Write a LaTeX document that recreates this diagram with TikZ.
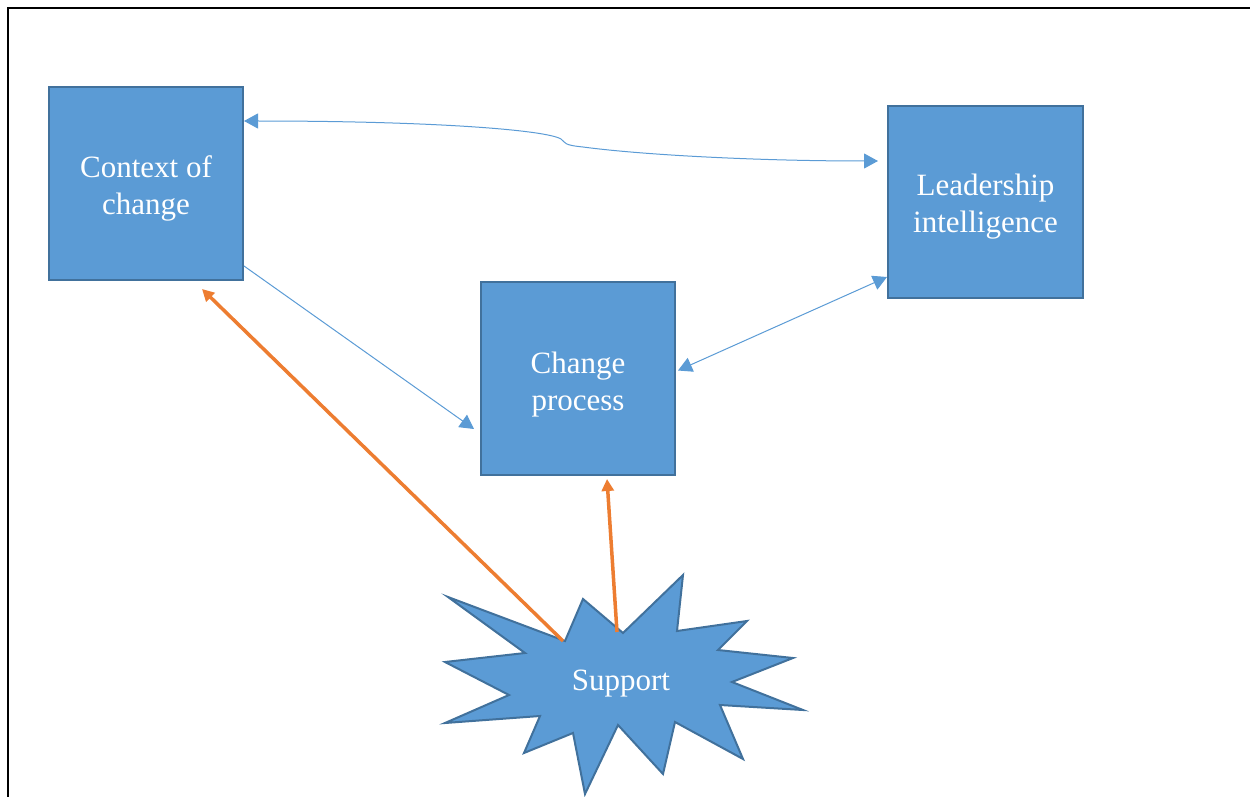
\documentclass[tikz,border=0pt]{standalone}
\usepackage{fontspec}
\setmainfont{Liberation Serif}
\usetikzlibrary{arrows.meta}
\definecolor{boxfill}{HTML}{5B9BD5}
\definecolor{boxline}{HTML}{41719C}
\definecolor{supportorange}{HTML}{ED7D31}
\begin{document}
\begin{tikzpicture}[x=1pt,y=-1pt,
  stagebox/.style={rectangle, draw=boxline, fill=boxfill, line width=2pt,
    minimum width=194pt, minimum height=193pt, inner sep=0pt},
  stagetext/.style={text=white, align=center, inner sep=0pt, yshift=-5pt,
    font=\fontsize{31}{37}\selectfont},
  bluelink/.style={draw=boxfill, line width=1pt,
    -{Triangle[length=14pt,width=15pt]}},
  bluetwoway/.style={draw=boxfill, line width=1pt,
    {Triangle[length=14pt,width=15pt]}-{Triangle[length=14pt,width=15pt]}},
  orangelink/.style={draw=supportorange, line width=3.5pt,
    -{Triangle[length=12pt,width=12pt]}}]
\useasboundingbox (0,0) rectangle (1250,797);
% page frame (open at the right and bottom)
\draw[line width=2.5pt] (8,797) -- (8,8) -- (1250,8);

% the three stages
\node[stagebox, label={[stagetext]center:Context of\\change}] (ctx) at (146,183.5) {};
\node[stagebox, minimum width=195pt, minimum height=192pt,
  label={[stagetext]center:Leadership\\intelligence}] (lead) at (985.5,202) {};
\node[stagebox, label={[stagetext, yshift=-1pt]center:Change\\process}] (chg) at (578,378.5) {};

% support burst
\draw[fill=boxfill, draw=boxline, line width=2pt, line join=miter]
  (448,597) -- (565,641) -- (583,599) -- (623,633) -- (683,575) -- (677,631)
  -- (747,621) -- (718,650) -- (793,658) -- (732,682) -- (803,710) -- (720,705)
  -- (743,759) -- (675,722) -- (663,774) -- (618,725) -- (585,794) -- (573,733)
  -- (524,753) -- (540,716) -- (445,723) -- (509,695) -- (445,662) -- (525,653)
  -- cycle;
\node[text=white, font=\fontsize{31}{37}\selectfont, inner sep=0pt] (sup) at (621,684) {Support};
\coordinate (supA) at (563,641);
\coordinate (supB) at (617,632);

% connectors
\draw[bluetwoway] ([yshift=-35pt]ctx.north east)
  .. controls +(190,0) and +(-15,-9) .. (561,139)
  .. controls +(5,4) and +(-20,-2) .. (583,147)
  .. controls +(60,8) and +(-120,0) .. ([xshift=-9pt,yshift=-56pt]lead.north west);
\draw[bluelink] ([yshift=15pt]ctx.south east) -- ([xshift=-6pt,yshift=47pt]chg.south west);
\draw[bluetwoway] ([yshift=22pt]lead.south west) -- ([xshift=2pt,yshift=8pt]chg.east);
\draw[orangelink] (supA) -- ([xshift=154pt,yshift=-8pt]ctx.south west);
\draw[orangelink] (supB) -- ([xshift=29pt,yshift=-3pt]chg.south);
\end{tikzpicture}
\end{document}
